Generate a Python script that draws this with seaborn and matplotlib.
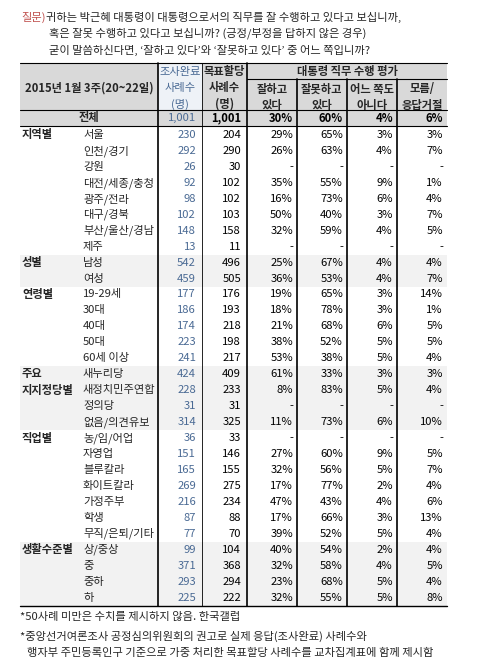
import matplotlib
matplotlib.use("Agg")
import matplotlib.pyplot as plt
import seaborn as sns
import numpy as np

sns.set_theme(style="white")
plt.rcParams['font.family'] = ['Noto Sans CJK KR', 'DejaVu Sans']

groups = [("지역별", 8), ("성별", 2), ("연령별", 5), ("주요\n지지정당별", 4), ("직업별", 7), ("생활수준별", 4)]
shaded_groups = ["성별", "주요\n지지정당별", "생활수준별"]
labels = ["서울", "인천/경기", "강원", "대전/세종/충청", "광주/전라", "대구/경북", "부산/울산/경남", "제주",
          "남성", "여성",
          "19-29세", "30대", "40대", "50대", "60세 이상",
          "새누리당", "새정치민주연합", "정의당", "없음/의견유보",
          "농/임/어업", "자영업", "블루칼라", "화이트칼라", "가정주부", "학생", "무직/은퇴/기타",
          "상/중상", "중", "중하", "하"]
n_done = [230, 292, 26, 92, 98, 102, 148, 13, 542, 459, 177, 186, 174, 223, 241,
          424, 228, 31, 314, 36, 151, 165, 269, 216, 87, 77, 99, 371, 293, 225]
n_target = [204, 290, 30, 102, 102, 103, 158, 11, 496, 505, 176, 193, 218, 198, 217,
            409, 233, 31, 325, 33, 146, 155, 275, 234, 88, 70, 104, 368, 294, 222]
good = [29, 26, None, 35, 16, 50, 32, None, 25, 36, 19, 18, 21, 38, 53,
        61, 8, None, 11, None, 27, 32, 17, 47, 17, 39, 40, 32, 23, 32]
bad = [65, 63, None, 55, 73, 40, 59, None, 67, 53, 65, 78, 68, 52, 38,
       33, 83, None, 73, None, 60, 56, 77, 43, 66, 52, 54, 58, 68, 55]
neither = [3, 4, None, 9, 6, 3, 4, None, 4, 4, 3, 3, 6, 5, 5,
           3, 5, None, 6, None, 9, 5, 2, 4, 3, 5, 2, 4, 5, 5]
dunno = [3, 7, None, 1, 4, 7, 5, None, 4, 7, 14, 1, 5, 5, 4,
         3, 4, None, 10, None, 5, 7, 4, 6, 13, 4, 4, 5, 4, 8]
total = ["1,001", "1,001", "30%", "60%", "4%", "6%"]

fig = plt.figure(figsize=(4.8, 6.7), dpi=100)
ax = fig.add_axes([0, 0, 1, 1])
ax.set_xlim(0, 480)
ax.set_ylim(670, 0)
ax.axis("off")

fs = 8.1
L, R = 20, 447
xs = [158, 202, 247, 297, 347, 397, 447]
rights = [196, 241, 293, 343, 393, 443]
blue = "#4a6a94"

# question
ax.text(21, 17, "질문)", color="#c0504d", fontsize=fs, va="center")
ax.text(46, 17, "귀하는 박근혜 대통령이 대통령으로서의 직무를 잘 수행하고 있다고 보십니까,", fontsize=fs, va="center")
ax.text(49, 33, "혹은 잘못 수행하고 있다고 보십니까? (긍정/부정을 답하지 않은 경우)", fontsize=fs, va="center")
ax.text(49, 50, "굳이 말씀하신다면, ‘잘하고 있다’와 ‘잘못하고 있다’ 중 어느 쪽입니까?", fontsize=fs, va="center")

# header
top, hbot, tbot = 63, 110, 126
ax.add_patch(plt.Rectangle((L, top), R - L, tbot - top, color="#d9d9d9", lw=0))
ax.add_patch(plt.Rectangle((xs[0], top), xs[1] - xs[0], hbot - top, color="#eef2f7", lw=0))
ax.text(89, 88, "2015년 1월 3주(20~22일)", fontsize=fs, weight="bold", ha="center", va="center")
for i, t in enumerate(["조사완료", "사례수", "(명)"]):
    ax.text(180, 72 + i * 16, t, fontsize=fs, color=blue, ha="center", va="center")
for i, t in enumerate(["목표할당", "사례수", "(명)"]):
    ax.text(224.5, 72 + i * 16, t, fontsize=fs, weight="bold", ha="center", va="center")
ax.text(347, 71, "대통령 직무 수행 평가", fontsize=fs, weight="bold", ha="center", va="center")
subs = [("잘하고", "있다"), ("잘못하고", "있다"), ("어느 쪽도", "아니다"), ("모름/", "응답거절")]
for k, (a, b) in enumerate(subs):
    cx = (xs[k + 2] + xs[k + 3]) / 2
    ax.text(cx, 89, a, fontsize=fs, weight="bold", ha="center", va="center")
    ax.text(cx, 105, b, fontsize=fs, weight="bold", ha="center", va="center")
ax.text(89, 118, "전체", fontsize=fs, weight="bold", ha="center", va="center")
for k, t in enumerate(total):
    ax.text(rights[k], 118, t, fontsize=fs, ha="right", va="center",
            color=blue if k == 0 else "black", weight="normal" if k == 0 else "bold")

# body
rh = 15.95
y0 = 127
row = 0
for g, n in groups:
    if g in shaded_groups:
        ax.add_patch(plt.Rectangle((L, y0 + row * rh), R - L, n * rh, color="#f2f2f2", lw=0))
    if "\n" in g:
        ax.text(22, y0 + row * rh + 1, g, fontsize=fs, weight="bold", va="top", linespacing=1.4)
    else:
        ax.text(22, y0 + row * rh + rh / 2, g, fontsize=fs, weight="bold", va="center")
    row += n

def fmt(v):
    return "-" if v is None else f"{v}%"

for i, lab in enumerate(labels):
    cy = y0 + i * rh + rh / 2
    ax.text(83, cy, lab, fontsize=fs, va="center")
    vals = [str(n_done[i]), str(n_target[i]), fmt(good[i]), fmt(bad[i]), fmt(neither[i]), fmt(dunno[i])]
    for k, v in enumerate(vals):
        ax.text(rights[k], cy, v, fontsize=fs, ha="right", va="center", color=blue if k == 0 else "black")

bottom = y0 + len(labels) * rh
# lines
ax.plot([L, R], [top, top], color="black", lw=0.8)
ax.plot([xs[2], R], [79, 79], color="black", lw=0.8)
ax.plot([L, R], [hbot, hbot], color="black", lw=0.8)
ax.plot([L, R], [tbot, tbot], color="black", lw=0.8)
ax.plot([L, R], [bottom, bottom], color="black", lw=1.0)
for k, x in enumerate(xs[:-1]):
    y_start = 79 if k >= 3 else top
    ax.plot([x, x], [y_start, bottom], color="black", lw=0.6 if k == 1 else 1.2)

# footnotes
ax.text(20, bottom + 11, "*50사례 미만은 수치를 제시하지 않음. 한국갤럽", fontsize=fs, va="center")
ax.text(20, bottom + 31, "*중앙선거여론조사 공정심의위원회의 권고로 실제 응답(조사완료) 사례수와", fontsize=fs, va="center")
ax.text(27, bottom + 47, "행자부 주민등록인구 기준으로 가중 처리한 목표할당 사례수를 교차집계표에 함께 제시함", fontsize=fs, va="center")

fig.savefig("out.png", dpi=100, facecolor="white")
